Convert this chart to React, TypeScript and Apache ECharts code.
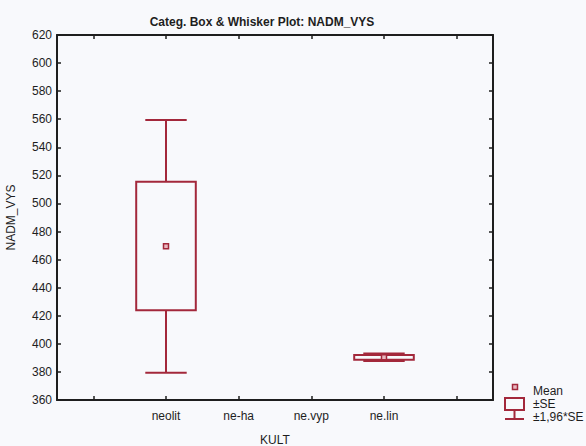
import React, { useEffect, useRef } from "react";
import * as echarts from "echarts";

const categories = ["", "neolit", "ne-ha", "ne.vyp", "ne.lin", ""];
const boxCats = [1, 4];
const means = [469.5, 390.4];
const seLow = [424, 388.7];
const seHigh = [515.5, 392.1];
const ciLow = [379.5, 387.8];
const ciHigh = [559.5, 393.1];
const yTicks = { min: 360, max: 620, interval: 20 };

const RED = "#a3283b";
const INK = "#1e1e1e";
const FONT = "Liberation Sans, Arial, sans-serif";

export default function App() {
  const ref = useRef<HTMLDivElement>(null);
  useEffect(() => {
    if (!ref.current) return;
    const chart = echarts.init(ref.current, undefined, { renderer: "svg" });
    const data = boxCats.map((c, i) => [c, means[i], seLow[i], seHigh[i], ciLow[i], ciHigh[i]]);
    const axisLine = { show: true, lineStyle: { color: INK, width: 2 } };
    chart.setOption({
      animation: false,
      backgroundColor: "#f8f9fc",
      textStyle: { fontFamily: FONT },
      title: {
        text: "Categ. Box & Whisker Plot: NADM_VYS",
        left: 257,
        textAlign: "center",
        top: 11,
        textStyle: { fontSize: 12, fontWeight: "bold", color: INK, fontFamily: FONT },
      },
      grid: { left: 57, top: 35, right: 93, bottom: 46, outerBoundsMode: "none", containLabel: false },
      xAxis: [
        {
          type: "category",
          data: categories,
          position: "bottom",
          axisLine,
          axisTick: { show: true, inside: true, alignWithLabel: true, interval: 0, length: 4, lineStyle: { color: INK, width: 1.5 } },
          axisLabel: { interval: 0, fontSize: 12, color: INK, margin: 10, fontFamily: FONT },
          splitLine: { show: false },
          name: "KULT",
          nameLocation: "middle",
          nameGap: 34,
          nameTextStyle: { fontSize: 12, color: INK, fontFamily: FONT },
        },
        {
          type: "category",
          data: categories,
          position: "top",
          axisLine,
          axisTick: { show: true, inside: true, alignWithLabel: true, interval: 0, length: 4, lineStyle: { color: INK, width: 1.5 } },
          axisLabel: { show: false },
          splitLine: { show: false },
        },
      ],
      yAxis: [
        {
          type: "value",
          min: yTicks.min,
          max: yTicks.max,
          interval: yTicks.interval,
          position: "left",
          axisLine,
          axisTick: { show: true, inside: true, length: 4, lineStyle: { color: INK, width: 1.5 } },
          axisLabel: { fontSize: 12, color: INK, margin: 5, fontFamily: FONT },
          splitLine: { show: false },
          name: "NADM_VYS",
          nameLocation: "middle",
          nameRotate: 90,
          nameGap: 40,
          nameTextStyle: { fontSize: 12, color: INK, fontFamily: FONT },
        },
        {
          type: "value",
          min: yTicks.min,
          max: yTicks.max,
          interval: yTicks.interval,
          position: "right",
          axisLine,
          axisTick: { show: true, inside: true, length: 4, lineStyle: { color: INK, width: 1.5 } },
          axisLabel: { show: false },
          splitLine: { show: false },
        },
      ],
      series: [
        {
          type: "custom",
          xAxisIndex: 0,
          yAxisIndex: 0,
          data,
          renderItem: (params: any, api: any) => {
            const c = api.value(0);
            const band = api.size([1, 0])[0];
            const boxW = band * 0.82;
            const capW = band * 0.57;
            const pMean = api.coord([c, api.value(1)]);
            const pSeL = api.coord([c, api.value(2)]);
            const pSeH = api.coord([c, api.value(3)]);
            const pCiL = api.coord([c, api.value(4)]);
            const pCiH = api.coord([c, api.value(5)]);
            const x = pMean[0];
            const ls = { stroke: RED, lineWidth: 2, fill: "none" };
            return {
              type: "group",
              children: [
                { type: "line", shape: { x1: x, y1: pSeH[1], x2: x, y2: pCiH[1] }, style: ls },
                { type: "line", shape: { x1: x, y1: pSeL[1], x2: x, y2: pCiL[1] }, style: ls },
                { type: "line", shape: { x1: x - capW / 2, y1: pCiH[1], x2: x + capW / 2, y2: pCiH[1] }, style: ls },
                { type: "line", shape: { x1: x - capW / 2, y1: pCiL[1], x2: x + capW / 2, y2: pCiL[1] }, style: ls },
                {
                  type: "rect",
                  shape: { x: x - boxW / 2, y: pSeH[1], width: boxW, height: pSeL[1] - pSeH[1] },
                  style: ls,
                },
                {
                  type: "rect",
                  shape: { x: x - 2.5, y: pMean[1] - 2.5, width: 5, height: 5 },
                  style: { stroke: RED, lineWidth: 1.5, fill: "#e9b8c0" },
                },
              ],
            };
          },
        },
      ],
      graphic: [
        { type: "rect", shape: { x: 512.5, y: 384.5, width: 5, height: 5 }, style: { stroke: RED, lineWidth: 1.5, fill: "#e9b8c0" } },
        { type: "rect", shape: { x: 505, y: 398, width: 19, height: 12 }, style: { stroke: RED, lineWidth: 2, fill: "none" } },
        { type: "line", shape: { x1: 514.5, y1: 410, x2: 514.5, y2: 419 }, style: { stroke: RED, lineWidth: 2 } },
        { type: "line", shape: { x1: 505, y1: 419, x2: 524, y2: 419 }, style: { stroke: RED, lineWidth: 2 } },
        { type: "text", x: 533, y: 391, style: { text: "Mean", fontSize: 12, fill: INK, fontFamily: FONT, verticalAlign: "middle" } },
        { type: "text", x: 533, y: 404, style: { text: "±SE", fontSize: 12, fill: INK, fontFamily: FONT, verticalAlign: "middle" } },
        { type: "text", x: 533, y: 417, style: { text: "±1,96*SE", fontSize: 12, fill: INK, fontFamily: FONT, verticalAlign: "middle" } },
      ],
    });
    return () => chart.dispose();
  }, []);
  return <div ref={ref} style={{ position: "absolute", left: 0, top: 0, width: 586, height: 446 }} />;
}
